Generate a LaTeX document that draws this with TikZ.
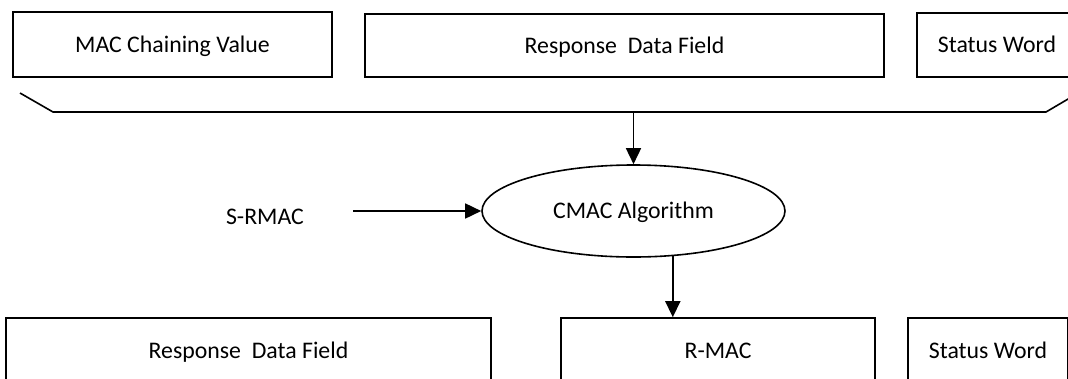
\documentclass[tikz,border=0pt]{standalone}
\usepackage{fontspec}
\setmainfont{Carlito}
\usetikzlibrary{shapes.geometric,arrows.meta}
\tikzset{
  label font/.style={font=\fontsize{23.8pt}{26pt}\selectfont, text height=15.3pt, text depth=0pt},
  field/.style={draw, line width=1.6pt, rectangle, inner sep=0pt, label font},
  algo/.style={draw, line width=1.6pt, ellipse, inner sep=0pt,
    minimum width=303pt, minimum height=92pt, label font},
  plain/.style={inner sep=0pt, label font},
  flow/.style={line width=1.6pt, -{Triangle[length=16pt,width=15pt]}},
  bracket/.style={line width=1.6pt, line join=miter}
}
\begin{document}
\begin{tikzpicture}[x=1pt,y=-1pt]
\useasboundingbox (0,0) rectangle (1068,378);

% input fields
\node[field, minimum width=319pt, minimum height=65pt] (mcv) at (172.5,44.5) {MAC Chaining Value};
\node[field, minimum width=519pt, minimum height=63pt] (rdf1) at (624.5,45.5) {Response\ \ Data Field};
\node[field, minimum width=160pt, minimum height=64pt] (sw1) at (997,45) {Status Word};

% bracket gathering the inputs
\coordinate (bl0) at (20,93);
\coordinate (bl1) at (53,112);
\coordinate (br1) at (1046,112);
\coordinate (br0) at (1080,92);
\draw[bracket] (bl0) -- (bl1) -- (br1) -- (br0);
\coordinate (btap) at (633.5,112);

% algorithm
\node[algo] (alg) at (633.5,211) {CMAC Algorithm};
\draw[flow] (btap) -- (alg.north);

\node[plain] (key) at (265,217) {S-RMAC};
\coordinate (keyout) at (353,211);
\draw[flow] (keyout) -- (alg.west);

% output fields
\node[field, minimum width=485pt, minimum height=66pt] (rdf2) at (248.5,351) {Response\ \ Data Field};
\node[field, minimum width=314pt, minimum height=66pt] (rmac) at (718,351) {R-MAC};
\node[field, minimum width=160pt, minimum height=66pt] (sw2) at (988,351) {Status Word};

\draw[flow] (alg.-49) -- (alg.-49 |- rmac.north);
\end{tikzpicture}
\end{document}
